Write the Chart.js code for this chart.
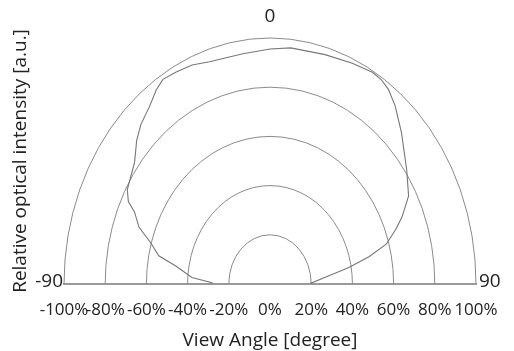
<!DOCTYPE html>
<html>
<head>
<meta charset="utf-8">
<script src="https://cdn.jsdelivr.net/npm/chart.js@4/dist/chart.umd.min.js"></script>
<style>
  html, body { margin: 0; padding: 0; background: #ffffff; }
  #wrap { width: 514px; height: 351px; }
</style>
</head>
<body>
<div id="wrap"><canvas id="chart" width="514" height="351"></canvas></div>
<script>
// Emission profile: view angle (degrees, 0 = normal) and relative intensity (%)
const viewAngles = [-90, -89, -86, -81, -78, -74, -70, -66, -64, -61, -53, -48, -44, -39, -35, -32, -28, -23, -18, -8, 0,
                    6, 16, 24, 30, 33, 36, 40, 46, 55, 62, 67, 70, 74, 77, 80, 84, 89, 90];
const intensity  = [28, 28.2, 38, 46.1, 55.2, 60.1, 67.7, 72, 76.5, 79.2, 82.3, 87.1, 90.2, 92.9, 96.3, 98.1, 97.5, 96.7, 95, 94.5, 95.5,
                    96.5, 97, 98.2, 99.4, 99.1, 97.8, 94.5, 88.7, 81, 76.2, 69.6, 65, 58.7, 49.3, 38.9, 27.3, 19.9, 20];

// Radial grid levels (%) and axis tick values
const ringLevels = [20, 40, 60, 80, 100];
const xTickValues = [-100, -80, -60, -40, -20, 0, 20, 40, 60, 80, 100];
const angleLabels = { left: '-90', top: '0', right: '90' };

const FONT = "'Open Sans', 'Liberation Sans', sans-serif";
const TEXT = '#222222';
const GRID = '#8a8a8a';

// Convert the polar profile to cartesian points on the half-plane
const profilePoints = viewAngles.map((a, i) => {
  const t = a * Math.PI / 180;
  return { x: intensity[i] * Math.sin(t), y: intensity[i] * Math.cos(t) };
});

// Concentric half rings, placed through the chart scales
const ringPlugin = {
  id: 'rings',
  beforeDatasetsDraw(chart) {
    const { ctx, scales: { x, y } } = chart;
    const cx = x.getPixelForValue(0);
    const cy = y.getPixelForValue(0);
    ctx.save();
    ctx.strokeStyle = GRID;
    ctx.lineWidth = 1;
    ringLevels.forEach(v => {
      const rx = x.getPixelForValue(v) - cx;
      const ry = cy - y.getPixelForValue(v);
      ctx.beginPath();
      ctx.ellipse(cx, cy, rx, ry, 0, Math.PI, 2 * Math.PI);
      ctx.stroke();
    });
    ctx.restore();
  },
  afterDraw(chart) {
    const { ctx, chartArea: area, scales: { x, y } } = chart;
    const cy = y.getPixelForValue(0);
    ctx.save();
    ctx.fillStyle = TEXT;
    ctx.font = `19px ${FONT}`;
    ctx.textBaseline = 'middle';
    ctx.textAlign = 'right';
    ctx.fillText(angleLabels.left, area.left - 1, cy - 2);
    ctx.textAlign = 'left';
    ctx.fillText(angleLabels.right, area.right + 3, cy - 2);
    ctx.textAlign = 'center';
    ctx.fillText(angleLabels.top, x.getPixelForValue(0), y.getPixelForValue(100) - 21);
    ctx.restore();
  }
};

new Chart(document.getElementById('chart'), {
  type: 'scatter',
  data: {
    datasets: [{
      data: profilePoints,
      showLine: true,
      borderColor: '#777777',
      borderWidth: 1.1,
      pointRadius: 0,
      tension: 0,
      fill: false
    }]
  },
  options: {
    responsive: false,
    animation: false,
    devicePixelRatio: 1,
    layout: { padding: { top: 38, right: 38, bottom: 0, left: 0 } },
    plugins: { legend: { display: false }, tooltip: { enabled: false } },
    scales: {
      x: {
        type: 'linear',
        min: -100, max: 100,
        afterBuildTicks: s => { s.ticks = xTickValues.map(v => ({ value: v })); },
        afterFit: s => { s.height = 67; },
        grid: { display: false, drawTicks: false },
        border: { display: true, color: '#9a9a9a', width: 2 },
        ticks: {
          autoSkip: false, maxRotation: 0, minRotation: 0, padding: 16,
          color: TEXT, font: { family: FONT, size: 17 },
          callback: v => v + '%'
        },
        title: {
          display: true, text: 'View Angle [degree]',
          color: TEXT, font: { family: FONT, size: 19 },
          padding: { top: 0, bottom: -1 }
        }
      },
      y: {
        type: 'linear',
        min: 0, max: 100,
        afterFit: s => { s.width = 64; },
        grid: { display: false, drawTicks: false },
        border: { display: false },
        ticks: { display: false },
        title: {
          display: true, text: 'Relative optical intensity [a.u.]',
          color: TEXT, font: { family: FONT, size: 19 },
          padding: { top: 9, bottom: 0 }
        }
      }
    }
  },
  plugins: [ringPlugin]
});
</script>
</body>
</html>
